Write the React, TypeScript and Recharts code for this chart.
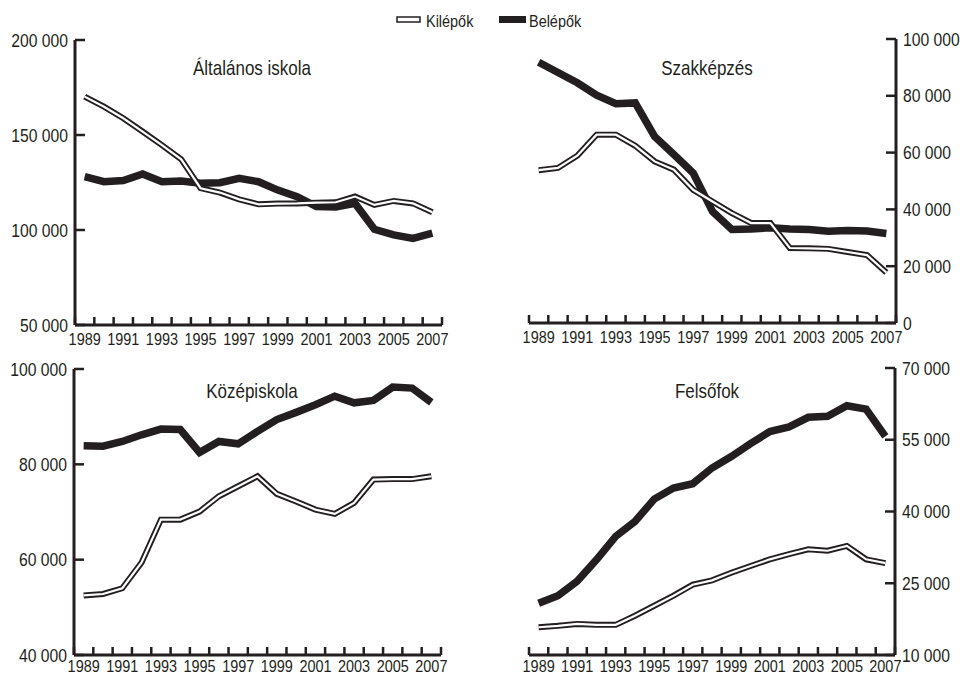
import { LineChart, Line, XAxis, YAxis } from 'recharts';

const years = [1989, 1990, 1991, 1992, 1993, 1994, 1995, 1996, 1997, 1998, 1999, 2000, 2001, 2002, 2003, 2004, 2005, 2006, 2007];

const altalanosKi = [170200, 164900, 158800, 151800, 144700, 137200, 122000, 119700, 116100, 113500, 113900, 114000, 114400, 114600, 117600, 113200, 115300, 114000, 109300];
const altalanosBe = [128100, 125400, 126000, 129500, 125400, 125800, 124600, 124900, 127200, 125400, 121000, 117500, 112300, 112100, 114000, 100400, 97400, 95600, 98300];

const szakKi = [53800, 54600, 58900, 66300, 66300, 62400, 56900, 54000, 46900, 42800, 38700, 35200, 35200, 26400, 26300, 26100, 25000, 23900, 17800];
const szakBe = [91800, 88200, 84600, 80200, 77200, 77500, 65700, 59300, 52800, 39300, 32900, 33100, 33500, 33100, 32900, 32300, 32600, 32400, 31500];

const kozepKi = [52500, 52800, 54000, 59400, 68400, 68400, 70100, 73300, 75400, 77500, 73800, 72200, 70500, 69600, 71900, 76800, 76900, 76900, 77500];
const kozepBe = [83900, 83800, 84800, 86200, 87400, 87300, 82500, 84800, 84300, 86900, 89400, 90900, 92500, 94300, 92900, 93400, 96200, 96000, 93000];

const felsoKi = [15800, 16100, 16500, 16300, 16300, 18200, 20300, 22400, 24700, 25600, 27200, 28600, 30000, 31100, 32100, 31800, 32800, 30000, 29200];
const felsoBe = [20800, 22400, 25400, 29900, 34800, 37900, 42600, 44900, 45800, 49100, 51500, 54200, 56700, 57700, 59700, 59900, 62100, 61400, 55700];

const altalanosTicks = [50000, 100000, 150000, 200000];
const szakTicks = [0, 20000, 40000, 60000, 80000, 100000];
const kozepTicks = [40000, 60000, 80000, 100000];
const felsoTicks = [10000, 25000, 40000, 55000, 70000];

const xTicks: number[] = [];
for (let i = 0; i <= years.length; i++) {
  xTicks.push(1988.5 + i);
  if (i < years.length) xTicks.push(years[i]);
}

const FONT = "'Liberation Sans', Arial, sans-serif";
const INK = '#231f20';
const SQUEEZE = 0.85;

const fmt = (v: number) => String(v).replace(/\B(?=(\d{3})+(?!\d))/g, ' ');

// condensed look: the original uses a narrow grotesque, so squeeze Liberation Sans horizontally
function NarrowText({ x, y, size, anchor = 'start', dy, children }: any) {
  return (
    <text
      transform={`translate(${x} ${y}) scale(${SQUEEZE} 1)`}
      dy={dy}
      textAnchor={anchor}
      fontSize={size}
      fontFamily={FONT}
      fill={INK}
    >
      {children}
    </text>
  );
}

function YearTick(props: any) {
  const { x, y, payload, labelOffset } = props;
  const v = payload.value;
  if (v % 1 !== 0) {
    return <line x1={x} x2={x} y1={y} y2={y - 8} stroke={INK} strokeWidth={2.5} />;
  }
  if (v % 2 === 0) return null;
  return (
    <NarrowText x={x} y={y + labelOffset} size={17} anchor="middle">
      {v}
    </NarrowText>
  );
}

function ValueTick(props: any) {
  const { x, y, payload, side } = props;
  const dir = side === 'left' ? 1 : -1;
  return (
    <g>
      <line x1={x} x2={x + dir * 10} y1={y} y2={y} stroke={INK} strokeWidth={2.5} />
      <NarrowText x={x - dir * 7} y={y} dy="0.36em" size={18.5} anchor={side === 'left' ? 'end' : 'start'}>
        {fmt(payload.value)}
      </NarrowText>
    </g>
  );
}

interface PanelProps {
  left: number;
  top: number;
  width: number;
  height: number;
  margin: { top: number; right: number; bottom: number; left: number };
  side: 'left' | 'right';
  axisWidth: number;
  xHeight: number;
  labelOffset: number;
  ki: number[];
  be: number[];
  ticks: number[];
}

function Panel(p: PanelProps) {
  const data = years.map((year, i) => ({ year, ki: p.ki[i], be: p.be[i] }));
  const domain = [p.ticks[0], p.ticks[p.ticks.length - 1]];
  return (
    <div style={{ position: 'absolute', left: p.left, top: p.top }}>
      <LineChart width={p.width} height={p.height} data={data} margin={p.margin}>
        <XAxis
          dataKey="year"
          type="number"
          domain={[1988.5, 2007.5]}
          ticks={xTicks}
          interval={0}
          height={p.xHeight}
          tickSize={0}
          tickMargin={0}
          tickLine={false}
          axisLine={{ stroke: INK, strokeWidth: 3 }}
          tick={<YearTick labelOffset={p.labelOffset} />}
        />
        <YAxis
          orientation={p.side}
          width={p.axisWidth}
          domain={domain}
          ticks={p.ticks}
          interval={0}
          tickSize={0}
          tickMargin={0}
          tickLine={false}
          axisLine={{ stroke: INK, strokeWidth: 3 }}
          tick={<ValueTick side={p.side} />}
        />
        <Line dataKey="be" stroke={INK} strokeWidth={7.5} dot={false} activeDot={false} isAnimationActive={false} />
        <Line dataKey="ki" stroke={INK} strokeWidth={6} dot={false} activeDot={false} isAnimationActive={false} />
        <Line dataKey="ki" stroke="#fff" strokeWidth={2.2} dot={false} activeDot={false} isAnimationActive={false} />
      </LineChart>
    </div>
  );
}

export default function App() {
  return (
    <div style={{ position: 'absolute', left: 0, top: 0, width: 962, height: 676, background: '#fff' }}>
      <Panel
        left={0} top={0} width={480} height={360}
        margin={{ top: 40, right: 38, bottom: 0, left: 0 }}
        side="left" axisWidth={75} xHeight={35} labelOffset={20}
        ki={altalanosKi} be={altalanosBe} ticks={altalanosTicks}
      />
      <Panel
        left={480} top={0} width={482} height={360}
        margin={{ top: 39, right: 0, bottom: 0, left: 49 }}
        side="right" axisWidth={66} xHeight={37} labelOffset={20}
        ki={szakKi} be={szakBe} ticks={szakTicks}
      />
      <Panel
        left={0} top={340} width={480} height={336}
        margin={{ top: 29, right: 39, bottom: 0, left: 0 }}
        side="left" axisWidth={74} xHeight={21} labelOffset={17}
        ki={kozepKi} be={kozepBe} ticks={kozepTicks}
      />
      <Panel
        left={480} top={340} width={482} height={336}
        margin={{ top: 28, right: 0, bottom: 0, left: 49 }}
        side="right" axisWidth={67} xHeight={21} labelOffset={17}
        ki={felsoKi} be={felsoBe} ticks={felsoTicks}
      />
      <svg width={962} height={676} style={{ position: 'absolute', left: 0, top: 0, pointerEvents: 'none' }}>
        <rect x={397} y={17} width={23} height={5} fill="#fff" stroke={INK} strokeWidth={1.5} />
        <NarrowText x={426} y={27} size={17}>Kilépők</NarrowText>
        <rect x={499} y={16} width={27} height={7} fill={INK} />
        <NarrowText x={529} y={27} size={17}>Belépők</NarrowText>
        <NarrowText x={252} y={75} size={20} anchor="middle">Általános iskola</NarrowText>
        <NarrowText x={707} y={75} size={20} anchor="middle">Szakképzés</NarrowText>
        <NarrowText x={252} y={398} size={20} anchor="middle">Középiskola</NarrowText>
        <NarrowText x={707} y={398} size={20} anchor="middle">Felsőfok</NarrowText>
      </svg>
    </div>
  );
}
